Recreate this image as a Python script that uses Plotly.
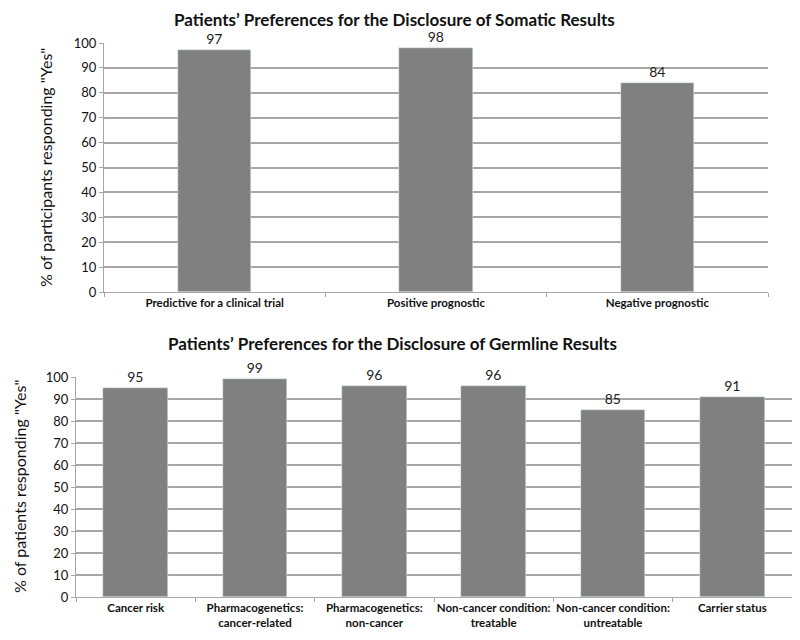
import plotly.graph_objects as go

# somatic results
somatic_cats = ["Predictive for a clinical trial", "Positive prognostic", "Negative prognostic"]
somatic_vals = [97, 98, 84]

# germline results
germline_cats = ["Cancer risk", "Pharmacogenetics:<br>cancer-related", "Pharmacogenetics:<br>non-cancer",
                 "Non-cancer condition:<br>treatable", "Non-cancer condition:<br>untreatable", "Carrier status"]
germline_vals = [95, 99, 96, 96, 85, 91]

y_ticks = list(range(0, 101, 10))

BAR = "#808080"
GRID = "#a6a6a6"
FONT = "Lato, Open Sans, sans-serif"
W, H = 800, 640
OFF = 8  # page body margin shifts the figure


def px(x):
    return (x - OFF) / W


def py(y):
    return 1 - (y - OFF) / H


fig = go.Figure()

fig.add_trace(go.Bar(
    x=somatic_cats, y=somatic_vals,
    text=somatic_vals, textposition="outside",
    textfont=dict(size=14, color="#222"),
    marker_color=BAR, width=0.33, cliponaxis=False,
    xaxis="x", yaxis="y", showlegend=False,
))

fig.add_trace(go.Bar(
    x=germline_cats, y=germline_vals,
    text=germline_vals, textposition="outside",
    textfont=dict(size=14, color="#222"),
    marker_color=BAR, width=0.54, cliponaxis=False,
    xaxis="x2", yaxis="y2", showlegend=False,
))

xcommon = dict(type="category", showline=True, linecolor=GRID, linewidth=1,
               ticks="outside", tickson="boundaries", ticklen=4, tickcolor=GRID,
               showgrid=False, tickangle=0, tickfont=dict(size=11.5, family=FONT, color="#111"))
ycommon = dict(range=[0, 100], tickvals=y_ticks, showgrid=True, gridcolor=GRID, gridwidth=1.5,
               showline=True, linecolor=GRID, ticks="outside", ticklen=4, tickcolor=GRID,
               tickfont=dict(size=13, family=FONT, color="#111"), zeroline=False)

fig.update_layout(
    width=W, height=H,
    margin=dict(l=0, r=0, t=0, b=0, autoexpand=False),
    paper_bgcolor="white", plot_bgcolor="white",
    font=dict(family=FONT, color="#111"),
    bargap=0,
    xaxis=dict(domain=[px(104), px(768)], anchor="y",
               tickvals=somatic_cats, ticktext=[f"<b>{c}</b>" for c in somatic_cats], **xcommon),
    yaxis=dict(domain=[py(292), py(43)], anchor="x", **ycommon),
    xaxis2=dict(domain=[px(76), px(792)], anchor="y2",
                tickvals=germline_cats, ticktext=[f"<b>{c}</b>" for c in germline_cats], **xcommon),
    yaxis2=dict(domain=[py(597), py(377)], anchor="x2", **ycommon),
    annotations=[
        dict(text="<b>Patients’ Preferences for the Disclosure of Somatic Results</b>",
             x=px(394), y=py(19), xref="paper", yref="paper", showarrow=False, borderpad=0,
             font=dict(size=17, family=FONT, color="#111"), xanchor="center", yanchor="middle"),
        dict(text="<b>Patients’ Preferences for the Disclosure of Germline Results</b>",
             x=px(392), y=py(343), xref="paper", yref="paper", showarrow=False, borderpad=0,
             font=dict(size=17, family=FONT, color="#111"), xanchor="center", yanchor="middle"),
        dict(text='% of participants responding "Yes"', textangle=-90,
             x=px(45), y=py(168), xref="paper", yref="paper", showarrow=False,
             font=dict(size=16, family=FONT, color="#111"), xanchor="center", yanchor="middle"),
        dict(text='% of patients responding "Yes"', textangle=-90,
             x=px(19), y=py(487), xref="paper", yref="paper", showarrow=False,
             font=dict(size=16, family=FONT, color="#111"), xanchor="center", yanchor="middle"),
    ],
)

fig.write_html("out.html")
